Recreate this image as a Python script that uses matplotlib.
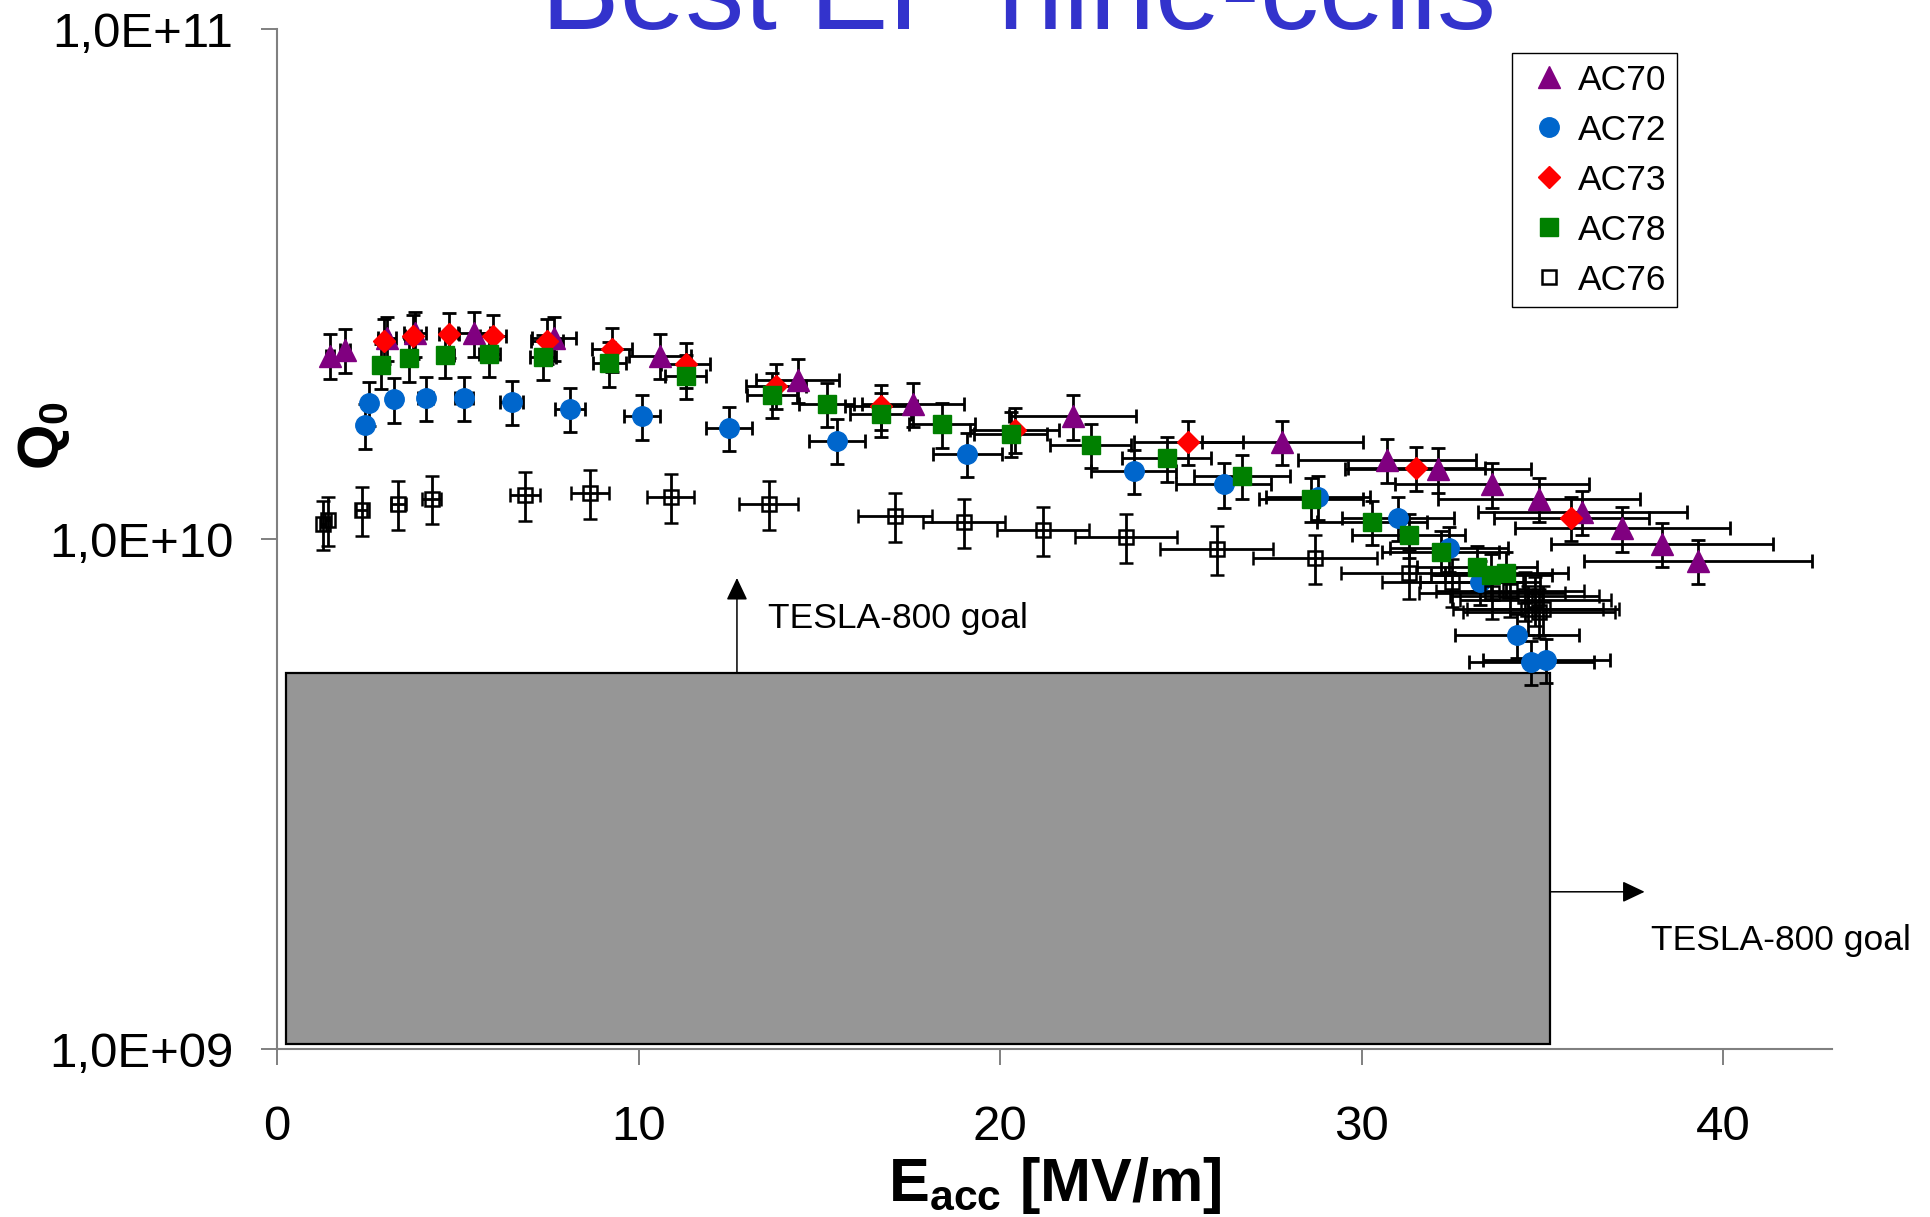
import matplotlib
matplotlib.use("Agg")
import matplotlib.pyplot as plt
from matplotlib.lines import Line2D
from matplotlib.patches import Rectangle
import numpy as np

plt.rcParams["font.family"] = ["Liberation Sans", "DejaVu Sans"]
plt.rcParams["mathtext.fontset"] = "custom"
plt.rcParams["mathtext.rm"] = "Liberation Sans"
plt.rcParams["mathtext.bf"] = "Liberation Sans:bold"

# Q0(Eacc) of the best electropolished nine-cell cavities
ac70_e = [1.47, 1.88, 3.04, 3.82, 5.45, 7.66, 10.59, 14.4, 17.58, 22.0, 27.8,
          30.7, 32.1, 33.6, 34.9, 36.1, 37.2, 38.3, 39.3]
ac70_q = [2.29e10, 2.35e10, 2.48e10, 2.53e10, 2.53e10, 2.48e10, 2.29e10, 2.05e10,
          1.84e10, 1.74e10, 1.55e10, 1.43e10, 1.37e10, 1.28e10, 1.20e10, 1.13e10,
          1.05e10, 9.78e9, 9.06e9]

ac72_e = [2.43, 2.55, 3.24, 4.11, 5.17, 6.49, 8.10, 10.10, 12.50, 15.49, 19.09,
          23.69, 26.18, 28.79, 31.0, 32.41, 33.26, 34.29, 34.69, 35.1]
ac72_q = [1.67e10, 1.85e10, 1.88e10, 1.89e10, 1.89e10, 1.86e10, 1.80e10, 1.74e10,
          1.65e10, 1.56e10, 1.47e10, 1.36e10, 1.28e10, 1.21e10, 1.10e10, 9.59e9,
          8.25e9, 6.49e9, 5.74e9, 5.79e9]

ac73_e = [2.96, 3.77, 4.76, 5.98, 7.47, 9.27, 11.30, 13.79, 16.70, 20.40, 25.2,
          31.51, 35.79]
ac73_q = [2.45e10, 2.50e10, 2.52e10, 2.50e10, 2.45e10, 2.36e10, 2.20e10, 2.00e10,
          1.82e10, 1.64e10, 1.55e10, 1.38e10, 1.10e10]

ac78_e = [2.87, 3.66, 4.66, 5.87, 7.36, 9.19, 11.30, 13.69, 15.20, 16.69, 18.39,
          20.29, 22.5, 24.6, 26.69, 28.59, 30.28, 31.3, 32.18, 33.19, 33.58, 34.0]
ac78_q = [2.19e10, 2.26e10, 2.30e10, 2.31e10, 2.28e10, 2.21e10, 2.09e10, 1.92e10,
          1.84e10, 1.76e10, 1.68e10, 1.61e10, 1.53e10, 1.44e10, 1.33e10, 1.20e10,
          1.08e10, 1.02e10, 9.44e9, 8.80e9, 8.49e9, 8.57e9]

ac76_e = [1.28, 1.42, 2.34, 3.36, 4.28, 6.86, 8.65, 10.89, 13.60, 17.1, 19.0,
          21.19, 23.49, 25.99, 28.7, 31.31, 32.5, 33.6, 34.1, 34.5, 34.8, 35.0,
          34.6, 34.9]
ac76_q = [1.07e10, 1.09e10, 1.14e10, 1.17e10, 1.20e10, 1.22e10, 1.23e10, 1.21e10,
          1.17e10, 1.11e10, 1.08e10, 1.04e10, 1.01e10, 9.56e9, 9.17e9, 8.59e9,
          8.25e9, 7.83e9, 7.9e9, 7.75e9, 7.6e9, 7.3e9, 7.3e9, 7.2e9]

# relative error bars (fraction of value) per cavity
e_err_frac = {"AC70": 0.08, "AC72": 0.05, "AC73": 0.06, "AC78": 0.05, "AC76": 0.06}
q_err_frac = {"AC70": 0.10, "AC72": 0.10, "AC73": 0.10, "AC78": 0.10, "AC76": 0.11}

# TESLA-800 goal box
goal_e = (0.25, 35.2)
goal_q = (1.023e9, 5.47e9)

series = [
    ("AC70", ac70_e, ac70_q, dict(marker="^", ms=15.5, mfc="#800080", mec="#800080")),
    ("AC72", ac72_e, ac72_q, dict(marker="o", ms=14, mfc="#0066CC", mec="#0066CC")),
    ("AC73", ac73_e, ac73_q, dict(marker="D", ms=11.5, mfc="#FF0000", mec="#FF0000")),
    ("AC78", ac78_e, ac78_q, dict(marker="s", ms=12.5, mfc="#008000", mec="#008000")),
    ("AC76", ac76_e, ac76_q, dict(marker="s", ms=9.5, mfc="none", mec="black", mew=1.8)),
]

fig = plt.figure(figsize=(19.3, 12.17), dpi=100)
ax = fig.add_axes([0.1435, 0.138, 0.8057, 0.8381])

ax.add_patch(Rectangle((goal_e[0], goal_q[0]), goal_e[1] - goal_e[0], goal_q[1] - goal_q[0],
                       facecolor="#969696", edgecolor="black", lw=1.6, zorder=1))

for name, e, q, style in series:
    e = np.array(e)
    q = np.array(q)
    ax.errorbar(e, q, xerr=e * e_err_frac[name], yerr=q * q_err_frac[name],
                ls="none", ecolor="black", elinewidth=2.0, capsize=5.3, capthick=2.0,
                zorder=3, **style)

# goal arrows and labels
arrow = dict(arrowstyle="-|>,head_length=13.7,head_width=6.5", color="black",
             lw=1.1, shrinkA=0, shrinkB=0, mutation_scale=1)
ax.annotate("", xy=(12.72, 8.39e9), xytext=(12.72, goal_q[1]), arrowprops=arrow, zorder=2)
ax.annotate("", xy=(37.82, 2.034e9), xytext=(goal_e[1], 2.034e9), arrowprops=arrow, zorder=2)
ax.text(13.57, 6.69e9, "TESLA-800 goal", fontsize=25.5, va="baseline", ha="left")
ax.text(37.99, 1.563e9, "TESLA-800 goal", fontsize=25.5, va="baseline", ha="left",
        clip_on=False)

ax.set_yscale("log")
ax.set_ylim(1e9, 1e11)
ax.set_xlim(0, 43)
ax.set_yticks([1e9, 1e10, 1e11])
ax.set_yticklabels(["1,0E+09", "1,0E+10", "1,0E+11"])
ax.yaxis.set_minor_locator(matplotlib.ticker.NullLocator())
ax.set_xticks([0, 10, 20, 30, 40])

for side in ("top", "right"):
    ax.spines[side].set_visible(False)
for side in ("left", "bottom"):
    ax.spines[side].set_color("#808080")
    ax.spines[side].set_linewidth(1.5)
ax.tick_params(axis="both", direction="out", length=11.5, width=1.4, color="#808080",
               labelsize=35.5)
ax.tick_params(axis="y", pad=20)
ax.tick_params(axis="x", pad=28.5)

ax.set_ylabel(r"$\mathbf{Q_0}$", fontsize=42)
ax.yaxis.set_label_coords(-0.132, 0.602)
ax.set_xlabel(r"$\mathbf{E_{acc}}$ [MV/m]", fontsize=44, fontweight="bold")
ax.xaxis.set_label_coords(0.5, -0.104)

fig.text(0.5275, 0.9762, "Best EP nine-cells", fontsize=85, color="#3333CC",
         ha="center", va="baseline")

handles = [Line2D([], [], ls="none", **style) for _, _, _, style in series]
leg = ax.legend(handles, [s[0] for s in series], loc="upper left",
                bbox_to_anchor=(1512 / 1930, 1 - 53 / 1217), bbox_transform=fig.transFigure,
                borderaxespad=0, fontsize=25.5, frameon=True, fancybox=False, framealpha=1,
                edgecolor="black", borderpad=0.3, labelspacing=0.48, handlelength=1.5,
                handletextpad=0.05)
leg.get_frame().set_linewidth(1.0)

fig.savefig("out.png", dpi=100)
